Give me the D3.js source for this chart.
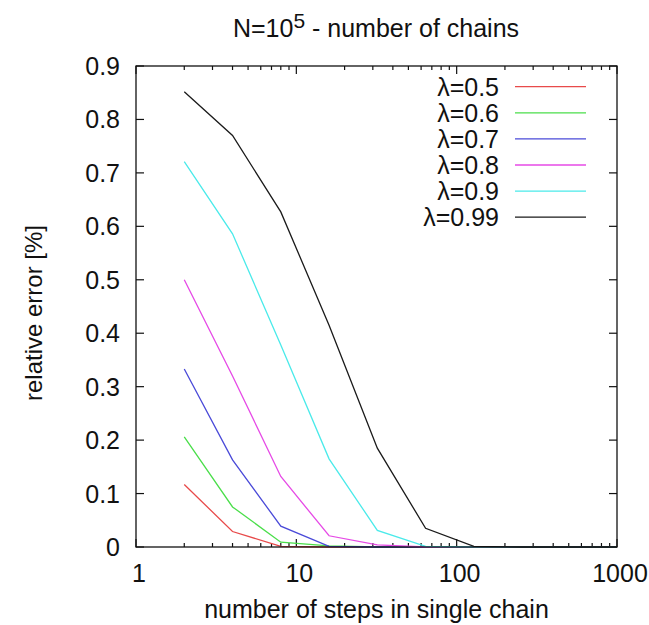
<html>
<head>
    <title>relative error</title>
    <script src="https://cdnjs.cloudflare.com/ajax/libs/d3/7.8.5/d3.min.js"></script>
    <style>
        body { margin: 0; background: #fff; }
        svg text { font-family: "Liberation Sans", Arial, sans-serif; fill: #111; }
    </style>
</head>
<body>
    <svg id="chart" width="649" height="625"></svg>
    <script>
        // number of steps in a single chain
        var steps = [2, 4, 8, 16, 32, 64, 128, 256, 512, 1024];

        // relative error [%] per lambda
        var lam05  = [0.117, 0.029, 0.001, 0, 0, 0, 0, 0, 0, 0];
        var lam06  = [0.206, 0.075, 0.009, 0.002, 0, 0, 0, 0, 0, 0];
        var lam07  = [0.333, 0.163, 0.039, 0.001, 0, 0, 0, 0, 0, 0];
        var lam08  = [0.500, 0.320, 0.132, 0.021, 0.004, 0, 0, 0, 0, 0];
        var lam09  = [0.721, 0.586, 0.378, 0.165, 0.031, 0.001, 0, 0, 0, 0];
        var lam099 = [0.852, 0.770, 0.627, 0.415, 0.185, 0.035, 0.001, 0, 0, 0];

        var seriesNames = ["λ=0.5", "λ=0.6", "λ=0.7", "λ=0.8", "λ=0.9", "λ=0.99"];
        var seriesValues = [lam05, lam06, lam07, lam08, lam09, lam099];
        var colors = ["#e84a4a", "#4ade4a", "#4a4ad8", "#e64ae6", "#4aeaea", "#1a1a1a"];

        var xTicks = [1, 10, 100, 1000];
        var yTicks = [0, 0.1, 0.2, 0.3, 0.4, 0.5, 0.6, 0.7, 0.8, 0.9];

        // plot area (don't use "top" - it's window.top)
        var pLeft = 136, pRight = 617, pTop = 66, pBottom = 547;

        var svg = d3.select("#chart");

        var x = d3.scaleLog().domain([1, 1000]).range([pLeft, pRight]);
        var y = d3.scaleLinear().domain([0, 0.9]).range([pBottom, pTop]);

        svg.append("clipPath").attr("id", "plotclip")
            .append("rect")
            .attr("x", pLeft).attr("y", pTop - 2)
            .attr("width", pRight - pLeft).attr("height", pBottom - pTop + 4);

        // minor ticks for log axis
        var minor = [];
        [1, 10, 100].forEach(function(d) {
            for (var k = 2; k <= 9; k++) minor.push(d * k);
        });

        var ax = svg.append("g").attr("stroke", "#111").attr("stroke-width", 1.2);

        yTicks.forEach(function(t) {
            ax.append("line").attr("x1", pLeft).attr("x2", pLeft + 8)
                .attr("y1", y(t)).attr("y2", y(t));
            ax.append("line").attr("x1", pRight).attr("x2", pRight - 8)
                .attr("y1", y(t)).attr("y2", y(t));
        });
        xTicks.forEach(function(t) {
            ax.append("line").attr("x1", x(t)).attr("x2", x(t))
                .attr("y1", pBottom).attr("y2", pBottom - 8);
            ax.append("line").attr("x1", x(t)).attr("x2", x(t))
                .attr("y1", pTop).attr("y2", pTop + 8);
        });
        minor.forEach(function(t) {
            ax.append("line").attr("x1", x(t)).attr("x2", x(t))
                .attr("y1", pBottom).attr("y2", pBottom - 4);
            ax.append("line").attr("x1", x(t)).attr("x2", x(t))
                .attr("y1", pTop).attr("y2", pTop + 4);
        });

        // tick labels
        svg.selectAll("text.ylab").data(yTicks).enter()
            .append("text").attr("class", "ylab")
            .attr("x", pLeft - 16).attr("y", d => y(d) + 9)
            .attr("text-anchor", "end").attr("font-size", 25)
            .text(d => d === 0 ? "0" : d3.format(".1f")(d));

        svg.selectAll("text.xlab").data(xTicks).enter()
            .append("text").attr("class", "xlab")
            .attr("x", d => x(d) + 3).attr("y", 582)
            .attr("text-anchor", "middle").attr("font-size", 25)
            .text(d => d);

        // lines
        var line = d3.line()
            .x((d, i) => x(steps[i]))
            .y(d => y(d));

        var plot = svg.append("g").attr("clip-path", "url(#plotclip)");
        seriesValues.forEach(function(vals, i) {
            plot.append("path")
                .attr("d", line(vals))
                .attr("fill", "none")
                .attr("stroke", colors[i])
                .attr("stroke-width", 1.3);
        });

        // frame
        svg.append("rect")
            .attr("x", pLeft).attr("y", pTop)
            .attr("width", pRight - pLeft).attr("height", pBottom - pTop)
            .attr("fill", "none").attr("stroke", "#111").attr("stroke-width", 1.3);

        // legend
        var lg = svg.append("g");
        seriesNames.forEach(function(name, i) {
            var ly = 86.7 + i * 26.1;
            lg.append("text").attr("x", 499).attr("y", ly + 9)
                .attr("text-anchor", "end").attr("font-size", 25)
                .text(name);
            lg.append("line").attr("x1", 515).attr("x2", 586)
                .attr("y1", ly).attr("y2", ly)
                .attr("stroke", colors[i]).attr("stroke-width", 1.3);
        });

        // title
        var title = svg.append("text").attr("x", 376).attr("y", 37)
            .attr("text-anchor", "middle").attr("font-size", 25);
        title.append("tspan").text("N=10");
        title.append("tspan").attr("dy", -9).attr("font-size", 21).text("5");
        title.append("tspan").attr("dy", 9).text(" - number of chains");

        // axis labels
        svg.append("text").attr("x", 376.5).attr("y", 618)
            .attr("text-anchor", "middle").attr("font-size", 25)
            .text("number of steps in single chain");

        svg.append("text")
            .attr("transform", "translate(42,313) rotate(-90)")
            .attr("text-anchor", "middle").attr("font-size", 24)
            .text("relative error [%]");
    </script>
</body>
</html>
